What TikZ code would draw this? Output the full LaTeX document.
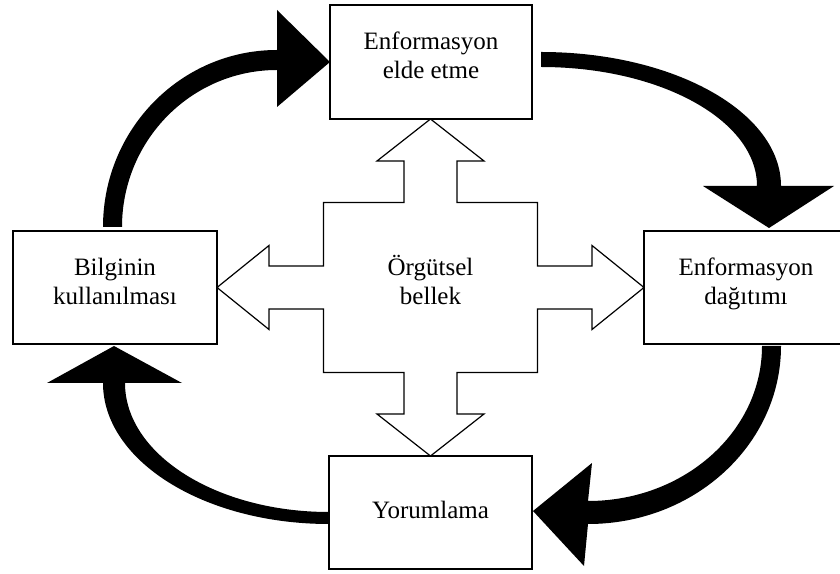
\documentclass[tikz,border=0pt]{standalone}
\usepackage{fontspec}
\setmainfont{Liberation Serif}
\begin{document}
\begin{tikzpicture}[x=1pt,y=1pt,
  box/.style={draw, line width=1.7pt, fill=white, outer sep=0pt, inner sep=0pt,
    align=center, font=\fontsize{25}{29}\selectfont, text height=46pt, text depth=12.5pt},
  oneline/.style={text height=17pt, text depth=6pt},
  memtext/.style={align=center, font=\fontsize{25}{29}\selectfont, inner sep=0pt,
    text height=46pt, text depth=12.5pt},
  cross/.style={draw, line width=1.2pt, fill=white, line join=miter},
  flow/.style={fill=black}]
\useasboundingbox (0,0) rectangle (840,573);
\clip (0,0) rectangle (840,573);

% the four activity boxes
\node[box, minimum width=202pt, minimum height=114pt] (T) at (431,511) {Enformasyon\\elde etme};
\node[box, minimum width=204pt, minimum height=113pt] (R) at (746,285.5) {Enformasyon\\dağıtımı};
\node[box, oneline, minimum width=203pt, minimum height=113pt] (B) at (430.5,60.5) {Yorumlama};
\node[box, minimum width=204pt, minimum height=113pt] (L) at (115,285.5) {Bilginin\\kullanılması};

% central four-way arrow around the memory label
\coordinate (C) at (430.5,285.5);
\begin{scope}[shift={(C)}]
\draw[cross] (0,168.5) -- (53.5,126.5) -- (26.5,126.5) -- (26.5,85) -- (107,85)
  -- (107,21.5) -- (161.5,21.5) -- (161.5,42) -- (213.5,0) -- (161.5,-42)
  -- (161.5,-21.5) -- (107,-21.5) -- (107,-85) -- (26.5,-85) -- (26.5,-126.5)
  -- (53.5,-126.5) -- (0,-168.5) -- (-53.5,-126.5) -- (-26.5,-126.5) -- (-26.5,-85)
  -- (-107,-85) -- (-107,-21.5) -- (-161.5,-21.5) -- (-161.5,-42) -- (-213.5,0)
  -- (-161.5,42) -- (-161.5,21.5) -- (-107,21.5) -- (-107,85) -- (-26.5,85)
  -- (-26.5,126.5) -- (-53.5,126.5) -- cycle;
\end{scope}
\node[memtext] (M) at (C) {Örgütsel\\bellek};

% curved cycle arrows between the boxes
\fill[flow] ([xshift=-12pt,yshift=4pt]L.north)
  arc[start angle=180, end angle=90, x radius=174, y radius=177]
  -- (277,563) -- (T.west) -- (277,466) -- (277,503)
  arc[start angle=90, end angle=180, x radius=155, y radius=157] -- cycle;

\fill[flow] ([xshift=9pt,yshift=10pt]T.east)
  arc[start angle=90, end angle=0, x radius=240, y radius=134]
  -- (834,387) -- ([xshift=23pt,yshift=3pt]R.north) -- (703,387) -- (757,387)
  arc[start angle=0, end angle=90, x radius=216, y radius=119] -- cycle;

\fill[flow] ([xshift=35pt,yshift=-2pt]R.south)
  arc[start angle=0, end angle=-90, x radius=193, y radius=178]
  -- (584,7) -- ([xshift=1pt,yshift=1.5pt]B.east) -- (592,110) -- (588,72)
  arc[start angle=-90, end angle=0, x radius=174, y radius=155] -- cycle;

\fill[flow] ([yshift=-11.5pt]B.west)
  arc[start angle=270, end angle=180, x radius=226, y radius=141]
  -- (47,190) -- ([xshift=-1pt,yshift=-2pt]L.south) -- (182,190) -- (125,190)
  arc[start angle=180, end angle=270, x radius=204, y radius=129] -- cycle;
\end{tikzpicture}
\end{document}
